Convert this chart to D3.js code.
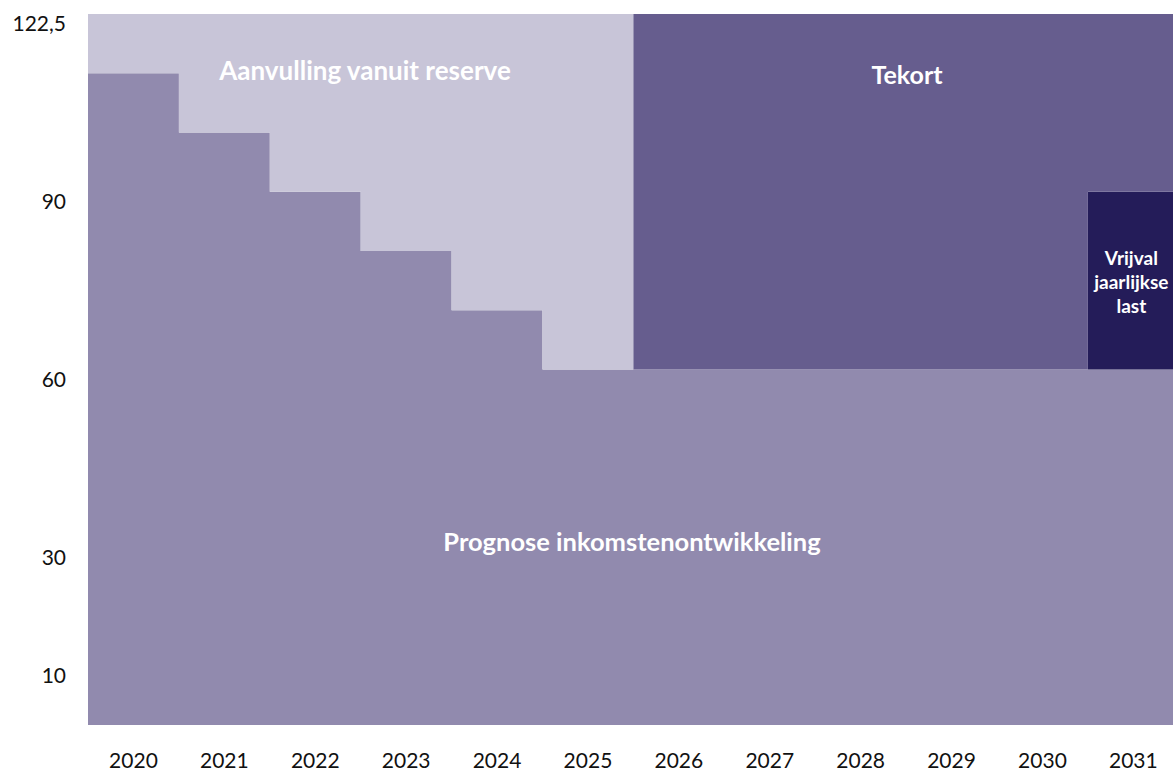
<!DOCTYPE html>
<html>
<head>
<meta charset="utf-8">
<script src="https://cdn.jsdelivr.net/npm/d3@7"></script>
<style>
  html, body { margin: 0; padding: 0; background: #ffffff; }
  svg { display: block; }
  text { font-family: Lato, "Noto Sans", sans-serif; }
</style>
</head>
<body>
<svg id="chart" width="1173" height="773"></svg>
<script>
// ---- data ----
const years = ["2020","2021","2022","2023","2024","2025","2026","2027","2028","2029","2030","2031"];
const prognose  = [110, 100, 90, 80, 70, 60, 60, 60, 60, 60, 60, 60];   // Prognose inkomstenontwikkeling
const vrijval   = [0, 0, 0, 0, 0, 0, 0, 0, 0, 0, 0, 30];                // Vrijval jaarlijkse last
const aanvulling= [10, 20, 30, 40, 50, 60, 0, 0, 0, 0, 0, 0];           // Aanvulling vanuit reserve
const tekort    = [0, 0, 0, 0, 0, 0, 60, 60, 60, 60, 60, 30];           // Tekort
const yTickValues = [120, 90, 60, 30, 10];
const yTickLabels = ["122,5", "90", "60", "30", "10"];

const seriesKeys = ["prognose", "vrijval", "aanvulling", "tekort"];
const seriesColors = {
  prognose: "#918aae",
  vrijval: "#241c59",
  aanvulling: "#c8c5d8",
  tekort: "#665d8e"
};

const table = years.map((yr, i) => ({
  year: yr,
  prognose: prognose[i],
  vrijval: vrijval[i],
  aanvulling: aanvulling[i],
  tekort: tekort[i]
}));

// ---- layout ----
const svg = d3.select("#chart");
const plotLeft = 88, bandW = 90.9, plotTop = 14, plotBottom = 725;
const x = d3.scaleBand().domain(years).range([plotLeft, plotLeft + bandW * years.length]).padding(0);
const y = d3.scaleLinear().domain([0, 120]).range([plotBottom, plotTop]);

const stacked = d3.stack().keys(seriesKeys)(table);

const area = d3.area()
  .x(d => d.x)
  .y0(d => y(d.y0))
  .y1(d => y(d.y1))
  .curve(d3.curveStepAfter);

stacked.forEach(s => {
  const pts = s.map((d, i) => ({ x: x(years[i]), y0: d[0], y1: d[1] }));
  const last = s[s.length - 1];
  pts.push({ x: x(years[years.length - 1]) + x.bandwidth(), y0: last[0], y1: last[1] });
  svg.append("path")
    .attr("d", area(pts))
    .attr("fill", seriesColors[s.key]);
});

// ---- axes ----
const yAxis = d3.axisLeft(y)
  .tickValues(yTickValues)
  .tickFormat((d, i) => yTickLabels[i])
  .tickSize(0)
  .tickPadding(22);
const gy = svg.append("g").attr("transform", `translate(${plotLeft},0)`).call(yAxis);
gy.select(".domain").remove();
gy.selectAll("text")
  .attr("dy", "0.8em")
  .style("font-family", "Lato, 'Noto Sans', sans-serif")
  .style("font-size", "21px")
  .attr("fill", "#111");

const xAxis = d3.axisBottom(x).tickSize(0).tickPadding(28);
const gx = svg.append("g").attr("transform", `translate(0,${plotBottom})`).call(xAxis);
gx.select(".domain").remove();
gx.selectAll("text")
  .style("font-family", "Lato, 'Noto Sans', sans-serif")
  .style("font-size", "21px")
  .attr("fill", "#111");

// ---- area labels ----
function label(txt, cx, baseline, size) {
  svg.append("text")
    .attr("x", cx).attr("y", baseline)
    .attr("text-anchor", "middle")
    .attr("fill", "#ffffff")
    .style("font-weight", "700")
    .style("font-size", size + "px")
    .text(txt);
}
label("Aanvulling vanuit reserve", 365, 80, 26);
label("Tekort", 907, 84, 25);
label("Prognose inkomstenontwikkeling", 632, 551, 25.5);

const vx = x("2031") + x.bandwidth() / 2 - 2;
const vLines = ["Vrijval", "jaarlijkse", "last"];
vLines.forEach((t, i) => label(t, vx, 265 + i * 24, 19));
</script>
</body>
</html>
